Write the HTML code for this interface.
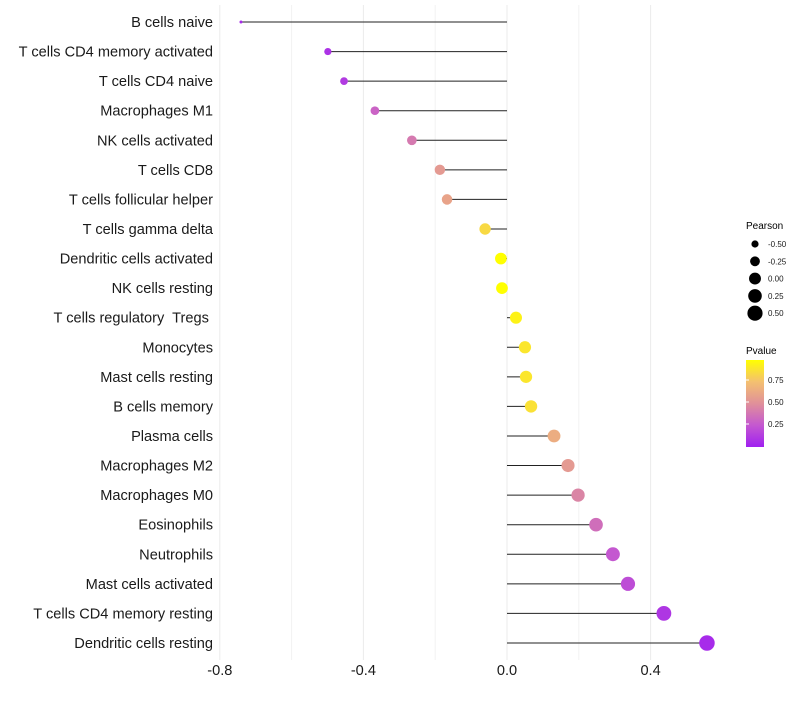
<!DOCTYPE html>
<html><head><meta charset="utf-8"><style>
body{margin:0;background:#fff;font-family:"Liberation Sans",Arial,sans-serif;}
svg text{font-family:"Liberation Sans",Arial,sans-serif;white-space:pre;}
</style></head><body>
<svg id="chart" width="800" height="700" xmlns="http://www.w3.org/2000/svg">
<g id="grid"></g>
<g id="marks"></g>
<g id="ylabels"></g>
<g id="xticks"></g>
<g id="legend-size">
<text x="746" y="229" font-size="10" fill="#000">Pearson</text>
</g>
<g id="legend-color">
<text x="746" y="354" font-size="10" fill="#000">Pvalue</text>
<defs><linearGradient id="pg" x1="0" y1="1" x2="0" y2="0">
<stop offset="0" stop-color="#a020f0"/><stop offset="0.25" stop-color="#c458d0"/><stop offset="0.5" stop-color="#e0909a"/><stop offset="0.75" stop-color="#f4c070"/><stop offset="1" stop-color="#ffff00"/></linearGradient></defs>
<rect x="746" y="360" width="18" height="87" fill="url(#pg)"/>
</g>
</svg>
<script>
const categories=["B cells naive","T cells CD4 memory activated","T cells CD4 naive","Macrophages M1","NK cells activated","T cells CD8","T cells follicular helper","T cells gamma delta","Dendritic cells activated","NK cells resting","T cells regulatory  Tregs ","Monocytes","Mast cells resting","B cells memory","Plasma cells","Macrophages M2","Macrophages M0","Eosinophils","Neutrophils","Mast cells activated","T cells CD4 memory resting","Dendritic cells resting"];
const pearson=[-0.741,-0.499,-0.454,-0.368,-0.265,-0.187,-0.167,-0.061,-0.017,-0.014,0.025,0.050,0.053,0.067,0.131,0.170,0.198,0.248,0.295,0.337,0.437,0.557];
const pvalue=[0.05,0.08,0.12,0.3,0.4,0.55,0.6,0.85,1.0,1.0,0.95,0.9,0.9,0.88,0.65,0.55,0.45,0.35,0.25,0.2,0.1,0.05];
const xTicks=[-0.8,-0.4,0.0,0.4];
const xMinor=[-0.6,-0.2,0.2];
const sizeBreaks=[-0.5,-0.25,0,0.25,0.5];
const colorBreaks=[0.25,0.5,0.75];
const NS="http://www.w3.org/2000/svg";
function X(v){return 507+v*359;}
function Y(i){return 22+i*29.57;}
const pmin=Math.min(...pearson),pmax=Math.max(...pearson);
function R(v){const t=(v-pmin)/(pmax-pmin);return Math.sqrt(2.25+t*(60-2.25));}
const stops=[[0,[160,32,240]],[0.25,[196,88,208]],[0.5,[224,144,154]],[0.75,[244,192,112]],[1,[255,255,0]]];
function C(p){for(let k=1;k<stops.length;k++){if(p<=stops[k][0]){const a=stops[k-1],b=stops[k];const t=(p-a[0])/(b[0]-a[0]);return "rgb("+a[1].map((c,j)=>Math.round(c+(b[1][j]-c)*t)).join(",")+")";}}return "rgb(255,255,0)";}
function mk(tag,attrs,parent){const e=document.createElementNS(NS,tag);for(const k in attrs)e.setAttribute(k,attrs[k]);parent.appendChild(e);return e;}
const grid=document.getElementById('grid');
xMinor.forEach(v=>{const l=mk('line',{x1:X(v),x2:X(v),y1:5,y2:660,stroke:'#f2f2f2','stroke-width':1},grid);

});
xTicks.forEach(v=>{const l=mk('line',{x1:X(v),x2:X(v),y1:5,y2:660,stroke:'#ebebeb','stroke-width':1},grid);

});
const marks=document.getElementById('marks'),yl=document.getElementById('ylabels'),xt=document.getElementById('xticks');
categories.forEach((c,i)=>{
const y=Y(i);
const s=mk('line',{x1:X(0),x2:X(pearson[i]),y1:y,y2:y,stroke:'#222','stroke-width':1},marks);


const d=mk('circle',{cx:X(pearson[i]),cy:y,r:R(pearson[i]),fill:C(pvalue[i])},marks);


const t=mk('text',{x:213,y:y+5,'text-anchor':'end','font-size':14.6,fill:'#1a1a1a'},yl);
t.textContent=c;


});
xTicks.forEach(v=>{const t=mk('text',{x:X(v),y:675,'text-anchor':'middle','font-size':14.6,fill:'#1a1a1a'},xt);
t.textContent=v.toFixed(1);

});
const ls=document.getElementById('legend-size');
sizeBreaks.forEach((v,k)=>{const y=244+k*17.3;
const c=mk('circle',{cx:755,cy:y,r:R(v),fill:'#000'},ls);


const t=mk('text',{x:768,y:y+3,'font-size':8,fill:'#1a1a1a'},ls);
t.textContent=v.toFixed(2);

});
const lc=document.getElementById('legend-color');
colorBreaks.forEach(v=>{const y=446-v*88;
const t=mk('text',{x:768,y:y+3,'font-size':8,fill:'#1a1a1a'},lc);
t.textContent=v.toFixed(2);


const l=mk('line',{x1:746,x2:749,y1:y,y2:y,stroke:'#fff'},lc);

});
</script>
</body></html>
